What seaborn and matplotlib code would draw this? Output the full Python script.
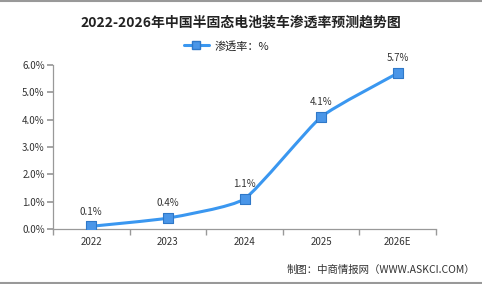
import numpy as np
import pandas as pd
import matplotlib
matplotlib.use("Agg")
import matplotlib.pyplot as plt
from matplotlib.path import Path
from matplotlib.patches import PathPatch
from matplotlib.lines import Line2D
import seaborn as sns

years = ["2022", "2023", "2024", "2025", "2026E"]
rate = [0.1, 0.4, 1.1, 4.1, 5.7]
labels = ["0.1%", "0.4%", "1.1%", "4.1%", "5.7%"]
yticks = [0, 1, 2, 3, 4, 5, 6]

sns.set_theme(style="white")
plt.rcParams["font.family"] = ["Noto Sans CJK SC", "DejaVu Sans"]

line_c = "#3A97F0"
mk_face = "#4A96E8"
mk_edge = "#2F78C8"

fig = plt.figure(figsize=(4.82, 2.84), dpi=100)
ax = fig.add_axes([53 / 482, 1 - 229 / 284, (436 - 53) / 482, (229 - 65) / 284])

df = pd.DataFrame({"year": years, "rate": rate})
x = np.arange(len(years))

# lightly smoothed line through the data points
verts = [(x[0], rate[0])]
codes = [Path.MOVETO]
t = 0.08
for i in range(len(x) - 1):
    p0 = (x[max(i - 1, 0)], rate[max(i - 1, 0)])
    p1 = (x[i], rate[i])
    p2 = (x[i + 1], rate[i + 1])
    p3 = (x[min(i + 2, len(x) - 1)], rate[min(i + 2, len(x) - 1)])
    c1 = (p1[0] + (p2[0] - p0[0]) * t, p1[1] + (p2[1] - p0[1]) * t)
    c2 = (p2[0] - (p3[0] - p1[0]) * t, p2[1] - (p3[1] - p1[1]) * t)
    verts += [c1, c2, p2]
    codes += [Path.CURVE4] * 3
ax.add_patch(PathPatch(Path(verts, codes), fill=False, edgecolor=line_c, lw=2.2, zorder=2))

sns.scatterplot(data=df, x="year", y="rate", marker="s", s=45, color=mk_face,
                edgecolor=mk_edge, linewidth=0.8, ax=ax, zorder=3, legend=False)

for i, (v, lab) in enumerate(zip(rate, labels)):
    ax.annotate(lab, (i, v), xytext=(0, 7), textcoords="offset points",
                ha="center", va="bottom", fontsize=7, color="#333333")

ax.set_xlim(-0.5, len(years) - 0.5)
ax.set_ylim(0, 6)
ax.set_yticks(yticks)
ax.set_yticklabels([f"{v:.1f}%" for v in yticks], fontsize=7, color="#333333")
ax.set_xticks(x)
ax.set_xticklabels(years, fontsize=7, color="#333333")
ax.set_xticks(np.arange(len(years) + 1) - 0.5, minor=True)
ax.tick_params(axis="x", which="major", length=0, pad=6)
ax.tick_params(axis="x", which="minor", length=4, color="#999999", direction="out", bottom=True)
ax.tick_params(axis="y", length=4, color="#999999", direction="out", left=True, pad=2)
ax.set_xlabel("")
ax.set_ylabel("")
for s in ["top", "right"]:
    ax.spines[s].set_visible(False)
for s in ["left", "bottom"]:
    ax.spines[s].set_color("#999999")
    ax.spines[s].set_linewidth(0.9)

handle = Line2D([], [], color=line_c, lw=2.2, marker="s", markersize=6,
                markerfacecolor=mk_face, markeredgecolor=mk_edge)
fig.legend([handle], ["渗透率：%"], loc="center", bbox_to_anchor=(0.47, 1 - 46 / 284),
           frameon=False, fontsize=8, handlelength=2.2, handletextpad=0.5)

fig.text(0.5, 1 - 22 / 284, "2022-2026年中国半固态电池装车渗透率预测趋势图",
         ha="center", va="center", fontsize=10, fontweight="bold", color="#222222")
fig.text(0.985, 1 - 270 / 284, "制图：中商情报网（WWW.ASKCI.COM）",
         ha="right", va="center", fontsize=7.5, color="#333333")

fig.add_artist(Line2D([0, 1], [0.998, 0.998], transform=fig.transFigure, color="#999999", lw=1.5))
fig.add_artist(Line2D([0, 1], [0.004, 0.004], transform=fig.transFigure, color="#999999", lw=1.5))

fig.savefig("out.png", dpi=100)
